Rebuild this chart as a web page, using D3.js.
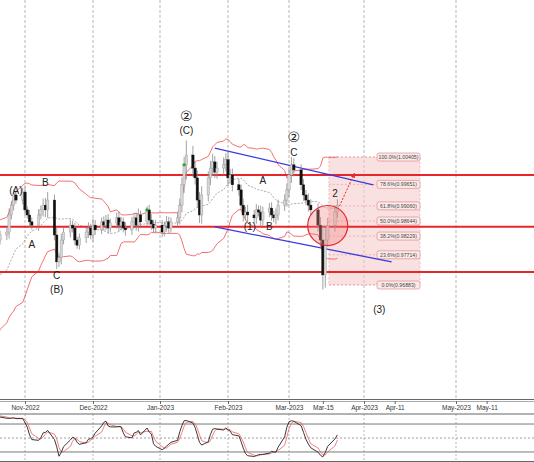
<!DOCTYPE html>
<html><head><meta charset="utf-8">
<script src="https://cdn.jsdelivr.net/npm/d3@7"></script>
<style>body{margin:0;background:#fff}svg{display:block;font-family:"Liberation Sans",Arial,sans-serif}</style>
</head><body><div class="canvas"></div>
<script>
// closes before the visible window (only feed the bands / stochastic)
const preCloses = [0.9564,0.9551,0.9578,0.9592,0.9619,0.9633,0.9647,0.9661,0.9675,0.9688,
  0.9702,0.9716,0.9730,0.9743,0.9763,0.9771,0.9785,0.9790,0.9798,0.9807];
// daily closes, Oct 20 2022 .. Mar 21 2023 (weekdays)
const closes = [0.9812,0.9826,
  0.9834,0.9881,0.9908,0.9936,0.9922, 0.9944,0.9895,0.9881,0.9862,0.9853,
  0.9881,0.9895,0.9908,0.9895,0.9922, 0.9826,0.9752,0.9763,0.9812,0.9834,
  0.9853,0.9845,0.9812,0.9798,0.9818, 0.9834,0.9845,0.9826,0.9853,0.9840,
  0.9862,0.9853,0.9867,0.9845,0.9859, 0.9873,0.9853,0.9862,0.9845,0.9840,
  0.9862,0.9873,0.9853,0.9881,0.9862, 0.9895,0.9867,0.9856,0.9845,0.9853,
  0.9834,0.9851,0.9862,0.9845,0.9862, 0.9873,0.9908,0.9964,1.0019,1.0046,
  1.0010,0.9983,0.9922,0.9881,0.9936, 0.9983,1.0010,1.0027,0.9999,1.0010,
  1.0019,1.0033,0.9983,0.9991,0.9964, 0.9950,0.9908,0.9881,0.9889,0.9881,
  0.9873,0.9895,0.9889,0.9867,0.9889, 0.9900,0.9881,0.9873,0.9881,0.9908,
  0.9922,0.9950,0.9991,1.0019,1.0005, 0.9964,0.9936,0.9922,0.9908,0.9895,
  0.9853,0.9812,0.9716,0.9812,0.9853, 0.9889,0.9908];
// wick length beyond the body, in pips
const wicks = [15,12, 14,18,12,15,10, 12,15,10,14,12, 16,12,18,20,22, 15,20,14,18,12,
  15,12,14,10,12, 14,16,12,18,14, 12,15,14,16,12, 15,18,14,12,16, 14,12,15,18,12,
  10,14,16,12,15, 14,12,16,14,12, 15,18,20,22,40, 25,18,20,22,24, 18,20,22,16,18,
  20,18,22,16,18, 16,14,18,15,20, 14,16,12,18,15, 14,16,12,18,15, 16,18,20,22,18,
  15,16,14,18,16, 18,22,40,35,20, 18,16];

const hLevels = [0.99910, 0.98487, 0.97241];
const fibPct = ["100.0%","78.6%","61.8%","50.0%","38.2%","23.6%","0.0%"];
const fibVal = [1.00405,0.99651,0.99060,0.98644,0.98229,0.97714,0.96883];
const channelUp = [["2023-01-26",1.0065],["2023-04-04",0.9964]];
const channelDn = [["2023-01-26",0.9848],["2023-04-10",0.9752]];
const monthTicks = ["2022-11-01","2022-12-01","2023-01-01","2023-02-01","2023-03-01","2023-04-01","2023-05-01"];
const monthLabels = ["Nov-2022","Dec-2022","Jan-2023","Feb-2023","Mar-2023","Apr-2023","May-2023"];
const minorTicks = ["2023-03-15","2023-04-11","2023-05-11"];
const minorLabels = ["Mar-15","Apr-11","May-11"];
const waveLabels = [
  ["2022-10-28",0.9940,"(A)"],["2022-11-04",0.9790,"A"],["2022-11-10",0.9960,"B"],
  ["2022-11-15",0.9705,"C"],["2022-11-15",0.9665,"(B)"],
  ["2023-01-13",1.0140,"②"],["2023-01-13",1.0105,"(C)"],
  ["2023-02-17",0.9965,"A"],["2023-02-11",0.9840,"(1)"],["2023-02-20",0.9840,"B"],
  ["2023-03-03",1.0082,"②"],["2023-03-03",1.0043,"C"],
  ["2023-03-20",0.9930,"2"],["2023-04-06",0.9610,"(3)"]
];

const W = 534, H = 462;
const parse = d3.timeParse("%Y-%m-%d");
const x = d3.scaleTime()
  .domain(monthTicks.map(parse))
  .range([25, 93, 160, 228, 289, 364, 456]);
const y = d3.scaleLinear().domain([0.96883, 1.00405]).range([285, 157]);
const yo = d3.scaleLinear().domain([0, 100]).range([461.3, 414.7]);

// weekday dates
const allDays = d3.timeDay.range(new Date(2022, 8, 22), new Date(2023, 2, 22))
  .filter(d => d.getDay() > 0 && d.getDay() < 6);
const allClose = preCloses.concat(closes);
const bars = allClose.map((c, i) => {
  const o = i ? allClose[i - 1] : c;
  const w = i >= preCloses.length ? wicks[i - preCloses.length] / 10000 : 0;
  return {date: allDays[i], o, c, h: Math.max(o, c) + w, l: Math.min(o, c) - w};
});
const vis = bars.slice(preCloses.length);

// bollinger 20,2
bars.forEach((b, i) => {
  if (i < 19) return;
  const win = bars.slice(i - 19, i + 1).map(d => d.c);
  const m = d3.mean(win), s = d3.deviation(win) * Math.sqrt(19 / 20);
  b.mid = m; b.up = m + 2 * s; b.dn = m - 2 * s;
});
// stochastic 14,3,3
bars.forEach((b, i) => {
  if (i < 13) return;
  const win = bars.slice(i - 13, i + 1);
  const hi = d3.max(win, d => d.h), lo = d3.min(win, d => d.l);
  b.raw = hi > lo ? (b.c - lo) / (hi - lo) * 100 : 50;
});
bars.forEach((b, i) => { if (i >= 15) b.k = d3.mean(bars.slice(i - 2, i + 1), d => d.raw); });
bars.forEach((b, i) => { if (i >= 17) b.d = d3.mean(bars.slice(i - 2, i + 1), d => d.k); });

const svg = d3.select('.canvas').append('svg').attr('width', W).attr('height', H);
svg.append('defs').append('clipPath').attr('id', 'main')
  .append('rect').attr('width', W).attr('height', 399);
svg.select('defs').append('marker').attr('id', 'arr').attr('viewBox', '0 0 10 10')
  .attr('refX', 8).attr('refY', 5).attr('markerWidth', 5).attr('markerHeight', 5)
  .attr('orient', 'auto').append('path').attr('d', 'M0,0L10,5L0,10z').attr('fill', '#e8262a');

// grid
monthTicks.forEach(t => {
  const xx = x(parse(t));
  svg.append('line').attr('x1', xx).attr('x2', xx).attr('y1', 0).attr('y2', 399)
    .attr('stroke', '#999').attr('stroke-dasharray', '3,2').attr('stroke-width', 0.7);
  svg.append('line').attr('x1', xx).attr('x2', xx).attr('y1', 414).attr('y2', 462)
    .attr('stroke', '#999').attr('stroke-dasharray', '2,2').attr('stroke-width', 0.7);
});

const g = svg.append('g').attr('clip-path', 'url(#main)');

// fib box
const fx0 = x(parse("2023-03-15")) + 6, fx1 = 420;
g.append('rect').attr('x', fx0).attr('y', y(fibVal[0])).attr('width', fx1 - fx0)
  .attr('height', y(fibVal[6]) - y(fibVal[0])).attr('fill', '#f6c9c9').attr('fill-opacity', 0.55)
  .attr('stroke', '#e9a0a0').attr('stroke-dasharray', '2,2').attr('stroke-width', 0.6);
fibVal.forEach((v, i) => {
  g.append('line').attr('x1', fx0).attr('x2', fx1).attr('y1', y(v)).attr('y2', y(v))
    .attr('stroke', '#e09090').attr('stroke-dasharray', '2,2').attr('stroke-width', 0.6);
  const txt = `${fibPct[i]}(${v.toFixed(5)})`;
  g.append('rect').attr('x', 377).attr('y', y(v) - 4).attr('width', 43).attr('height', 8)
    .attr('rx', 2).attr('fill', '#fbeaea').attr('stroke', '#e07a7a').attr('stroke-width', 0.6);
  g.append('text').attr('x', 398.5).attr('y', y(v) + 2).attr('text-anchor', 'middle')
    .attr('font-size', 5.2).attr('fill', '#444').text(txt);
});

// bollinger bands
const bandLine = k => d3.line().defined(d => d[k] !== undefined).x(d => x(d.date)).y(d => y(d[k]));
['up', 'dn'].forEach(k => g.append('path').datum(bars).attr('d', bandLine(k))
  .attr('fill', 'none').attr('stroke', '#f06060').attr('stroke-width', 0.9));
g.append('path').datum(bars).attr('d', bandLine('mid')).attr('fill', 'none')
  .attr('stroke', '#888').attr('stroke-dasharray', '2,1.5').attr('stroke-width', 0.7);

// horizontal levels
hLevels.forEach(v => g.append('line').attr('x1', 0).attr('x2', W).attr('y1', y(v)).attr('y2', y(v))
  .attr('stroke', '#e8262a').attr('stroke-width', 2));

// channel
[channelUp, channelDn].forEach(c => g.append('line')
  .attr('x1', x(parse(c[0][0]))).attr('y1', y(c[0][1]))
  .attr('x2', x(parse(c[1][0]))).attr('y2', y(c[1][1]))
  .attr('stroke', '#3a3ae0').attr('stroke-width', 1.3));

// candles
const cg = g.selectAll('.bar').data(vis).enter().append('g');
cg.append('line').attr('x1', d => x(d.date)).attr('x2', d => x(d.date))
  .attr('y1', d => y(d.h)).attr('y2', d => y(d.l)).attr('stroke', '#8a8a8a').attr('stroke-width', 0.8);
cg.append('rect').attr('x', d => x(d.date) - 1.2).attr('width', 2.4)
  .attr('y', d => y(Math.max(d.o, d.c))).attr('height', d => Math.max(0.8, Math.abs(y(d.o) - y(d.c))))
  .attr('fill', d => d.c >= d.o ? '#d6d6d6' : '#111')
  .attr('stroke', d => d.c >= d.o ? '#999' : '#111').attr('stroke-width', 0.4);

// green markers
["2022-12-26","2023-01-12"].forEach(t => {
  const b = vis.find(d => +d.date === +parse(t));
  g.append('circle').attr('cx', x(b.date)).attr('cy', y(b.c)).attr('r', 1.6).attr('fill', '#2e9e2e');
});

// target circle and arrow
const last = vis[vis.length - 1];
g.append('circle').attr('cx', x(parse("2023-03-17"))).attr('cy', y(0.98520)).attr('r', 20)
  .attr('fill', '#f08080').attr('fill-opacity', 0.35).attr('stroke', '#e8262a').attr('stroke-width', 1.2);
g.append('line').attr('x1', x(last.date) + 2).attr('y1', y(0.9905))
  .attr('x2', x(parse("2023-03-28"))).attr('y2', y(0.9995))
  .attr('stroke', '#e8262a').attr('stroke-dasharray', '2,1.5').attr('stroke-width', 1)
  .attr('marker-end', 'url(#arr)');

// wave labels
waveLabels.forEach(([d, v, t]) => g.append('text').attr('x', x(parse(d))).attr('y', y(v))
  .attr('text-anchor', 'middle').attr('font-size', t === '②' ? 14 : 10)
  .attr('font-family', t === '②' ? 'DejaVu Sans' : null).attr('fill', '#222').text(t));

// axis strip
svg.append('line').attr('x1', 0).attr('x2', W).attr('y1', 399.5).attr('y2', 399.5).attr('stroke', '#666');
svg.append('line').attr('x1', 0).attr('x2', W).attr('y1', 401.5).attr('y2', 401.5).attr('stroke', '#aaa');
const axis = d3.axisBottom(x).tickValues(monthTicks.concat(minorTicks).map(parse))
  .tickSize(3).tickFormat((d, i) => monthLabels.concat(minorLabels)[i]);
const ax = svg.append('g').attr('transform', 'translate(0,401)').call(axis);
ax.select('.domain').remove();
ax.selectAll('text').attr('font-size', 6.5).attr('fill', '#333').attr('dy', '0.5em');
ax.selectAll('line').attr('stroke', '#666');

// oscillator panel
svg.append('line').attr('x1', 0).attr('x2', W).attr('y1', 414).attr('y2', 414).attr('stroke', '#666');
svg.append('line').attr('x1', 0).attr('x2', W).attr('y1', 461.5).attr('y2', 461.5).attr('stroke', '#666');
[80, 20].forEach(v => svg.append('line').attr('x1', 0).attr('x2', W).attr('y1', yo(v)).attr('y2', yo(v))
  .attr('stroke', '#555').attr('stroke-width', 0.8));
svg.append('line').attr('x1', 0).attr('x2', W).attr('y1', yo(50)).attr('y2', yo(50))
  .attr('stroke', '#888').attr('stroke-dasharray', '2,2').attr('stroke-width', 0.8);
const oLine = k => d3.line().defined(d => d[k] !== undefined).x(d => x(d.date)).y(d => yo(d[k]));
svg.append('path').datum(bars).attr('d', oLine('d')).attr('fill', 'none').attr('stroke', '#f06060').attr('stroke-width', 0.8);
svg.append('path').datum(bars).attr('d', oLine('k')).attr('fill', 'none').attr('stroke', '#222').attr('stroke-width', 0.9);
</script></body></html>
